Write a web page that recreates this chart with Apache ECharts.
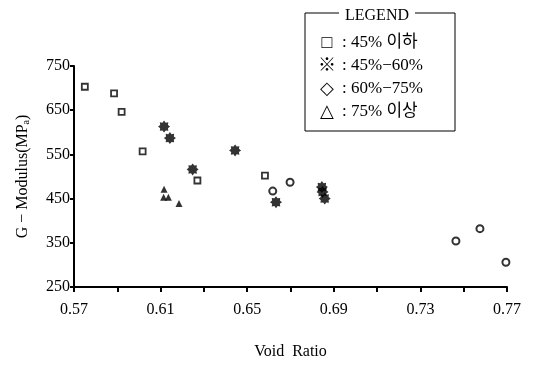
<!DOCTYPE html>
<html>
<head>
<meta charset="utf-8">
<script src="https://cdn.jsdelivr.net/npm/echarts@6/dist/echarts.min.js"></script>
<style>
  html, body { margin: 0; padding: 0; background: #fff; }
  #chart { width: 536px; height: 365px; }
</style>
</head>
<body>
<div id="chart"></div>
<script>
// void ratio / G-modulus (MPa) per group
const below45X = [0.575, 0.5885, 0.592, 0.6017, 0.627, 0.6582];
const below45Y = [703, 688, 646, 557, 491, 502];
const mid45to60X = [0.6116, 0.6143, 0.6444, 0.6248, 0.6633, 0.6845, 0.6848, 0.6858];
const mid45to60Y = [613, 587, 559, 516, 442, 476, 465, 450];
const mid60to75X = [0.6698, 0.6618, 0.7575, 0.7464, 0.7695];
const mid60to75Y = [487, 467, 382, 354, 306];
const above75X = [0.6116, 0.6114, 0.6136, 0.6185];
const above75Y = [471, 453, 453, 439];

const xLabels = [0.57, 0.61, 0.65, 0.69, 0.73, 0.77];
const xTicks = [0.57, 0.59, 0.61, 0.63, 0.65, 0.67, 0.69, 0.71, 0.73, 0.75, 0.77];
const yTicks = [250, 350, 450, 550, 650, 750];

const legendSymbols = ['□', '※', '◇', '△'];
const legendLabels = ['45% 이하', '45%−60%', '60%−75%', '75% 이상'];

const serif = '"Liberation Serif", "DejaVu Serif", "Noto Sans CJK KR", serif';
const starPath = 'path://M10 0 L12.7 3.5 L17.07 2.93 L16.5 7.3 L20 10 L16.5 12.7 L17.07 17.07 L12.7 16.5 L10 20 L7.3 16.5 L2.93 17.07 L3.5 12.7 L0 10 L3.5 7.3 L2.93 2.93 L7.3 3.5 Z';

const zip = (xs, ys) => xs.map((x, i) => [x, ys[i]]);

const chart = echarts.init(document.getElementById('chart'));

// legend box drawn by hand (symbol : label rows)
const legendGraphics = [
  {
    type: 'rect',
    shape: { x: 305, y: 13, width: 150, height: 118 },
    style: { fill: 'none', stroke: '#000', lineWidth: 1 }
  },
  {
    type: 'text',
    x: 377, y: 16,
    style: {
      text: 'LEGEND', font: '16px ' + serif, fill: '#000',
      align: 'center', verticalAlign: 'middle',
      backgroundColor: '#fff', padding: [0, 6]
    }
  }
];
legendLabels.forEach((t, i) => {
  legendGraphics.push({
    type: 'text',
    x: 327, y: 43 + i * 23,
    style: {
      text: legendSymbols[i], font: '18px ' + serif, fill: '#000',
      align: 'center', verticalAlign: 'middle'
    }
  });
  legendGraphics.push({
    type: 'text',
    x: 342, y: 43 + i * 23,
    style: {
      text: ': ' + t, font: '17px ' + serif, fill: '#000',
      align: 'left', verticalAlign: 'middle'
    }
  });
});

chart.setOption({
  animation: false,
  backgroundColor: '#fff',
  grid: { left: 74, right: 29, top: 66, bottom: 77 },
  xAxis: {
    type: 'value',
    min: 0.57,
    max: 0.77,
    name: 'Void  Ratio',
    nameLocation: 'middle',
    nameGap: 57,
    nameTextStyle: { fontFamily: serif, fontSize: 16, color: '#000' },
    axisLine: { show: true, lineStyle: { color: '#000', width: 2 } },
    axisTick: { show: true, length: 5, customValues: xTicks, lineStyle: { color: '#000', width: 2 } },
    axisLabel: {
      customValues: xLabels,
      margin: 15,
      fontFamily: serif, fontSize: 16, color: '#000',
      formatter: v => v.toFixed(2)
    },
    splitLine: { show: false }
  },
  yAxis: {
    type: 'value',
    min: 250,
    max: 750,
    name: '{n|G − Modulus(MP}{s|a}{n|)}',
    nameLocation: 'middle',
    nameRotate: 90,
    nameGap: 43,
    nameTextStyle: {
      rich: {
        n: { fontFamily: serif, fontSize: 16, color: '#000' },
        s: { fontFamily: serif, fontSize: 10, color: '#000', verticalAlign: 'bottom' }
      }
    },
    axisLine: { show: true, lineStyle: { color: '#000', width: 2 } },
    axisTick: { show: true, length: 4, customValues: yTicks, lineStyle: { color: '#000', width: 2 } },
    axisLabel: {
      customValues: yTicks,
      margin: 4,
      fontFamily: serif, fontSize: 16, color: '#000'
    },
    splitLine: { show: false }
  },
  series: [
    {
      name: '45% 이하',
      type: 'scatter',
      symbol: 'rect',
      symbolSize: 6,
      itemStyle: { color: '#fff', borderColor: '#000', borderWidth: 1.8 },
      data: zip(below45X, below45Y)
    },
    {
      name: '45%-60%',
      type: 'scatter',
      symbol: starPath,
      symbolSize: 12,
      itemStyle: { color: '#000' },
      data: zip(mid45to60X, mid45to60Y)
    },
    {
      name: '60%-75%',
      type: 'scatter',
      symbol: 'circle',
      symbolSize: 7,
      itemStyle: { color: '#fff', borderColor: '#000', borderWidth: 2 },
      data: zip(mid60to75X, mid60to75Y)
    },
    {
      name: '75% 이상',
      type: 'scatter',
      symbol: 'triangle',
      symbolSize: 7,
      itemStyle: { color: '#000' },
      data: zip(above75X, above75Y)
    }
  ],
  graphic: legendGraphics
});
</script>
</body>
</html>
